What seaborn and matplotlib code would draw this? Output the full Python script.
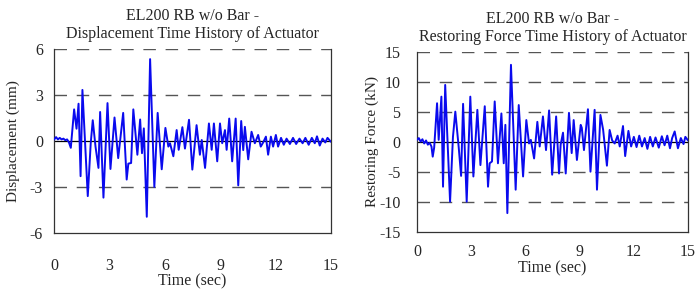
import matplotlib
matplotlib.use('Agg')
import matplotlib.pyplot as plt
import seaborn as sns
import pandas as pd

# Displacement of actuator (mm), peaks/valleys
disp_t = [0.0, 0.1, 0.2, 0.3, 0.4, 0.5, 0.6, 0.7, 0.8, 0.9, 1.08, 1.21, 1.32, 1.43, 1.53, 1.82, 1.98,
          2.09, 2.24, 2.4, 2.49, 2.67, 2.89, 3.05, 3.27, 3.47, 3.74, 3.93, 4.02, 4.17, 4.29, 4.51,
          4.66, 4.76, 4.86, 5.02, 5.2, 5.43, 5.61, 5.83, 6.03, 6.19, 6.28, 6.46, 6.64, 6.75, 6.95,
          7.09, 7.31, 7.49, 7.72, 7.9, 8.0, 8.18, 8.39, 8.54, 8.66, 8.84, 8.99, 9.11, 9.26, 9.35,
          9.49, 9.65, 9.84, 9.98, 10.14, 10.25, 10.34, 10.52, 10.7, 10.88, 11.06, 11.2, 11.33,
          11.48, 11.6, 11.75, 11.87, 12.02, 12.14, 12.3, 12.45, 12.6, 12.78, 12.95, 13.12, 13.3,
          13.47, 13.62, 13.8, 13.97, 14.13, 14.25, 14.4, 14.55, 14.7, 14.82, 15.0]
disp_v = [0.1, 0.25, 0.1, 0.2, 0.1, 0.15, 0.05, 0.1, -0.1, -0.45, 2.06, 0.8, 2.43, -2.3, 3.33, -3.6, -0.15,
          1.35, -0.37, -1.76, 1.89, -3.7, 2.47, -1.83, 1.53, -1.12, 1.83, -2.52, -1.48, -1.44, 2.06, -0.9,
          1.4, -0.8, 0.82, -4.95, 5.34, -3.0, 1.83, -1.85, 0.85, -0.37, -0.15, -1.0, 0.71, -0.58, 0.9,
          -0.5, 1.38, -1.87, 1.03, -0.9, 0.06, -1.76, 1.14, -0.58, 1.14, -1.33, 1.14, -0.15, 0.71, -0.58,
          1.46, -1.33, 1.46, -2.9, 1.3, -0.6, 0.92, -1.2, 0.6, -0.15, 0.39, -0.37, -0.1,
          0.28, -0.9, 0.28, -0.37, 0.39, -0.37, 0.2, -0.25, 0.15, -0.2, 0.2, -0.2, 0.15,
          -0.15, 0.2, -0.25, 0.2, -0.15, 0.3, -0.3, 0.15, -0.1, 0.2, -0.05]

# Restoring force (kN)
force_t = [0.0, 0.1, 0.2, 0.3, 0.4, 0.5, 0.6, 0.7, 0.8, 0.87, 0.95, 1.11, 1.2, 1.35, 1.44, 1.56, 1.83,
           1.99, 2.12, 2.31, 2.44, 2.55, 2.75, 2.95, 3.12, 3.34, 3.51, 3.75, 3.93, 4.02, 4.15, 4.3,
           4.48, 4.67, 4.8, 4.89, 5.0, 5.2, 5.46, 5.63, 5.87, 6.05, 6.2, 6.3, 6.48, 6.66, 6.79, 6.97,
           7.14, 7.31, 7.48, 7.7, 7.86, 7.95, 8.08, 8.23, 8.41, 8.56, 8.67, 8.85, 9.06, 9.12, 9.24,
           9.46, 9.6, 9.83, 9.96, 10.15, 10.3, 10.51, 10.66, 10.8, 10.94, 11.1, 11.22, 11.4, 11.52,
           11.7, 11.85, 12.0, 12.15, 12.3, 12.45, 12.6, 12.75, 12.9, 13.05, 13.2, 13.38, 13.55, 13.7,
           13.85, 14.0, 14.12, 14.26, 14.44, 14.6, 14.75, 14.85, 15.0]
force_v = [0.3, 0.6, 0.0, 0.4, -0.3, 0.2, -0.5, -0.2, -0.8, -2.5, -1.0, 6.4, 0.3, 7.5, -7.5, 9.45, -10.0,
           0.8, 5.0, -1.0, -5.7, 6.3, -10.0, 7.5, -5.8, 5.3, -3.9, 5.9, -7.5, -3.6, -3.3, 6.7,
           -3.6, 4.7, -3.6, 2.8, -11.9, 12.8, -8.0, 6.1, -5.8, 3.6, -0.3, 0.3, -2.8, 3.3, -0.8, 4.2,
           -1.4, 5.2, -5.5, 4.2, -5.3, -0.5, 1.5, -5.3, 4.8, -1.9, 3.6, -3.05, 2.8, 2.3, -1.4,
           5.4, -5.0, 5.3, -8.0, 4.45, 2.0, -4.0, 1.95, 0.2, -0.3, 1.0, -0.8, 2.6, -2.4,
           1.8, -0.8, 0.8, -0.9, 1.0, -0.8, 0.6, -1.2, 0.8, -0.8, 0.7, -1.0, 0.9, -0.6,
           1.0, -1.1, 0.6, 1.7, -1.1, 0.6, -0.4, 0.8, 0.2]

df_disp = pd.DataFrame({'t': disp_t, 'v': disp_v})
df_force = pd.DataFrame({'t': force_t, 'v': force_v})

sns.set_style('white')
plt.rcParams['font.family'] = ['Liberation Serif', 'DejaVu Serif']
plt.rcParams['font.size'] = 11.5
plt.rcParams['axes.unicode_minus'] = False

fig = plt.figure(figsize=(6.95, 2.9), dpi=100)
ax1 = fig.add_axes([0.078, 0.197, 0.398, 0.634])
ax2 = fig.add_axes([0.600, 0.201, 0.390, 0.621])

panels = [
    (ax1, df_disp, [-6, -3, 0, 3, 6], 'Displacement (mm)',
     'EL200 RB w/o Bar -\nDisplacement Time History of Actuator', 18, 8, 7),
    (ax2, df_force, [-15, -10, -5, 0, 5, 10, 15], 'Restoring Force (kN)',
     'EL200 RB w/o Bar -\nRestoring Force Time History of Actuator', 9, 12, 0),
]

for ax, d, yt, ylab, title, xpad, ypad, lpad in panels:
    lim = yt[-1]
    for g in yt[1:]:
        if g != 0:
            ax.axhline(g, color='#555555', lw=1.0, ls=(0, (9, 7)), zorder=1)
    ax.axhline(0, color='black', lw=0.9, zorder=1)
    sns.lineplot(data=d, x='t', y='v', ax=ax, color='#0a0aee', lw=1.4,
                 estimator=None, zorder=3)
    ax.set_xlim(0, 15)
    ax.set_ylim(-lim, lim)
    ax.set_xticks([0, 3, 6, 9, 12, 15])
    ax.set_yticks(yt)
    ax.tick_params(axis='x', direction='in', length=4, width=0.8, pad=xpad)
    ax.tick_params(axis='y', length=0, pad=ypad)
    ax.spines['top'].set_visible(False)
    for s in ['left', 'right', 'bottom']:
        ax.spines[s].set_color('#333333')
        ax.spines[s].set_linewidth(0.9)
    ax.set_xlabel('Time (sec)', labelpad=0)
    ax.set_ylabel(ylab, fontsize=11, labelpad=lpad)
    ax.set_title(title, fontsize=11.5, pad=8, linespacing=1.15)

fig.savefig('out.png', dpi=100)
